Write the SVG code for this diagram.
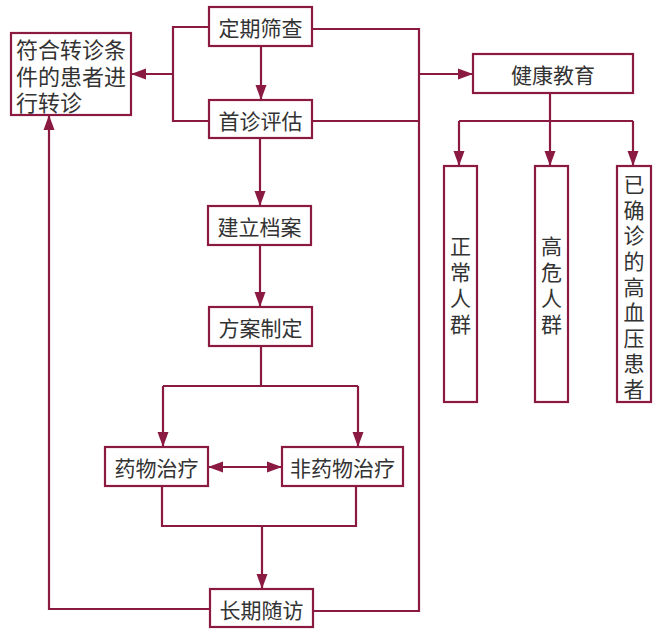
<svg xmlns="http://www.w3.org/2000/svg" width="660" height="640" viewBox="0 0 660 640">
<style>
.box{fill:#fff;stroke:#8a1a42;stroke-width:2.2}
.ln{fill:none;stroke:#8a1a42;stroke-width:2.2}
.t{font-family:"Noto Sans CJK SC","Noto Sans CJK JP",sans-serif;font-size:21px;fill:#333;text-anchor:middle;dominant-baseline:central}
.tl{font-family:"Noto Sans CJK SC","Noto Sans CJK JP",sans-serif;font-size:22px;fill:#333;dominant-baseline:central}
.tv{font-family:"Noto Sans CJK SC","Noto Sans CJK JP",sans-serif;font-size:21px;fill:#333;text-anchor:middle;writing-mode:vertical-rl}
</style>
<defs>
<marker id="a" markerUnits="userSpaceOnUse" markerWidth="16" markerHeight="12" refX="15" refY="6" orient="auto-start-reverse" viewBox="0 0 16 12">
<path d="M0,0.5 L15,6 L0,11.5 Z" fill="#8a1a42"/>
</marker>
</defs>
<rect width="660" height="640" fill="#fff"/>
<g id="connectors">
<path class="ln" d="M209,27 H173 V121 H209"/>
<path class="ln" d="M173,74 H131" marker-end="url(#a)"/>
<path class="ln" d="M261,46 V100" marker-end="url(#a)"/>
<path class="ln" d="M312,29 H419 V611 H313"/>
<path class="ln" d="M312,121 H419"/>
<path class="ln" d="M419,74 H473" marker-end="url(#a)"/>
<path class="ln" d="M260,138 V206" marker-end="url(#a)"/>
<path class="ln" d="M260,245 V307" marker-end="url(#a)"/>
<path class="ln" d="M261,346 V386"/>
<path class="ln" d="M163,386 H358"/>
<path class="ln" d="M163,386 V447" marker-end="url(#a)"/>
<path class="ln" d="M358,386 V447" marker-end="url(#a)"/>
<path class="ln" d="M208,467 H282" marker-start="url(#a)" marker-end="url(#a)"/>
<path class="ln" d="M162,486 V526 H356 V486"/>
<path class="ln" d="M262,526 V589" marker-end="url(#a)"/>
<path class="ln" d="M210,609 H49 V115" marker-end="url(#a)"/>
<path class="ln" d="M550,93 V166" marker-end="url(#a)"/>
<path class="ln" d="M459,121 H633"/>
<path class="ln" d="M459,121 V166" marker-end="url(#a)"/>
<path class="ln" d="M633,121 V166" marker-end="url(#a)"/>
</g>
<g id="n_screen"><rect class="box" x="209" y="7" width="103" height="39"/><text class="t" x="260.5" y="27">定期筛查</text></g>
<g id="n_first"><rect class="box" x="209" y="100" width="103" height="38"/><text class="t" x="260.5" y="119.5">首诊评估</text></g>
<g id="n_referral"><rect class="box" x="11" y="33" width="120" height="82"/>
<text class="tl"><tspan x="16" y="48">符合转诊条</tspan><tspan x="16" y="75">件的患者进</tspan><tspan x="16" y="101">行转诊</tspan></text></g>
<g id="n_file"><rect class="box" x="208" y="206" width="103" height="39"/><text class="t" x="259.5" y="226">建立档案</text></g>
<g id="n_plan"><rect class="box" x="209" y="307" width="103" height="39"/><text class="t" x="260.5" y="327">方案制定</text></g>
<g id="n_drug"><rect class="box" x="105" y="447" width="103" height="39"/><text class="t" x="156.5" y="467">药物治疗</text></g>
<g id="n_nondrug"><rect class="box" x="282" y="447" width="121" height="39"/><text class="t" x="342.5" y="467">非药物治疗</text></g>
<g id="n_follow"><rect class="box" x="210" y="589" width="103" height="38"/><text class="t" x="261.5" y="608.5">长期随访</text></g>
<g id="n_edu"><rect class="box" x="473" y="54" width="160" height="39"/><text class="t" x="553" y="74">健康教育</text></g>
<g id="n_normal"><rect class="box" x="444" y="166" width="33" height="236"/>
<text class="tv" x="460.5" y="288" letter-spacing="5">正常人群</text></g>
<g id="n_high"><rect class="box" x="535" y="166" width="33" height="236"/>
<text class="tv" x="551.5" y="288" letter-spacing="5">高危人群</text></g>
<g id="n_diag"><rect class="box" x="617" y="166" width="34" height="236"/>
<text class="tv" x="634" y="289" letter-spacing="4.6">已确诊的高血压患者</text></g>
</svg>
